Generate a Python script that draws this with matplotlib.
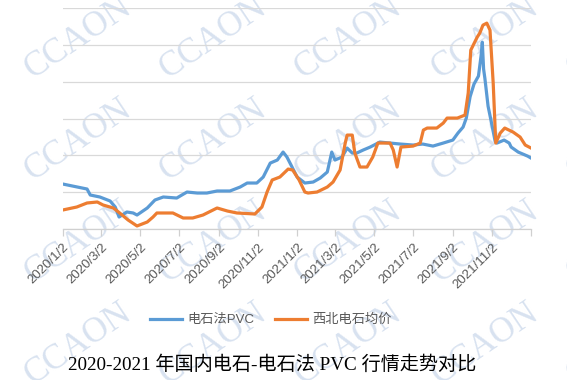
import pandas as pd
import matplotlib.pyplot as plt

plt.rcParams['font.family'] = ['Liberation Sans', 'Noto Sans CJK SC']

start = pd.Timestamp('2020-01-02')

# days since 2020/1/2, price levels (axis has no labels, units arbitrary)
pvc_day = [0, 38, 43, 58, 74, 82, 88, 100, 110, 116, 132, 144, 157, 178, 186, 194,
           210, 225, 241, 261, 277, 288, 303, 313, 324, 335, 344, 350, 358, 366,
           378, 391, 402, 413, 420, 425, 436, 444, 452, 459, 469, 480, 495, 511,
           527, 547, 562, 578, 594, 609, 617, 625, 630, 636, 642, 649, 653, 655,
           657, 659, 664, 670, 675, 678, 689, 697, 700, 711, 726, 731]
pvc_val = [1223, 1087, 924, 870, 761, 598, 326, 462, 435, 380, 571, 788, 870, 842,
           924, 1005, 978, 978, 1033, 1033, 1141, 1250, 1250, 1413, 1793, 1875,
           2092, 1957, 1685, 1413, 1250, 1277, 1386, 1549, 2092, 1875, 1957, 2201,
           2065, 2065, 2147, 2228, 2364, 2337, 2310, 2283, 2310, 2255, 2337, 2418,
           2609, 2772, 3016, 3600, 3940, 4160, 4700, 5080, 4350, 4100, 3340, 2830,
           2390, 2337, 2418, 2337, 2228, 2092, 1980, 1929]

carbide_day = [0, 22, 38, 54, 63, 79, 89, 102, 116, 132, 141, 147, 172, 188, 203,
               219, 241, 257, 272, 300, 311, 319, 327, 339, 352, 359, 369, 378,
               383, 397, 413, 422, 433, 441, 444, 452, 456, 464, 475, 484, 492,
               511, 516, 522, 528, 547, 558, 563, 569, 584, 594, 600, 616, 628,
               633, 637, 647, 651, 656, 662, 667, 672, 676, 683, 690, 703, 714,
               722, 731]
carbide_val = [516, 598, 707, 734, 652, 571, 435, 245, 82, 190, 326, 435, 435, 299,
               299, 380, 571, 489, 435, 408, 598, 1005, 1332, 1413, 1630, 1603,
               1332, 1005, 978, 1005, 1141, 1277, 1603, 2337, 2554, 2554, 2065,
               1685, 1685, 1957, 2337, 2337, 2147, 1685, 2228, 2255, 2337, 2690,
               2745, 2745, 2880, 3016, 3016, 3098, 3696, 4864, 5217, 5326, 5543,
               5598, 5408, 3967, 2337, 2609, 2745, 2636, 2500, 2283, 2201]

tick_dates = ['2020-01-02', '2020-03-02', '2020-05-02', '2020-07-02', '2020-09-02',
              '2020-11-02', '2021-01-02', '2021-03-02', '2021-05-02', '2021-07-02',
              '2021-09-02', '2021-11-02', '2022-01-02']
tick_labels = ['2020/1/2', '2020/3/2', '2020/5/2', '2020/7/2', '2020/9/2',
               '2020/11/2', '2021/1/2', '2021/3/2', '2021/5/2', '2021/7/2',
               '2021/9/2', '2021/11/2', '']

pvc_x = start + pd.to_timedelta(pvc_day, unit='D')
carbide_x = start + pd.to_timedelta(carbide_day, unit='D')

fig = plt.figure(figsize=(5.67, 3.8), dpi=100)
ax = fig.add_axes([0.1106, 0.3974, 0.8259, 0.5806])
ax.patch.set_visible(False)

# watermark (tiled, partly cut at the edges like the original)
for yc in [38, 140, 242, 344]:
    for xc in [-58, 78, 213, 348, 485, 620]:
        fig.text(xc / 567, 1 - yc / 380, 'CCAON', rotation=34, ha='center',
                 va='center', fontsize=25, color='#d8e2f0',
                 family='Liberation Serif', zorder=-1)

ax.plot(pvc_x, pvc_val, color='#5b9bd5', lw=2.3, label='电石法PVC',
        solid_joinstyle='round')
ax.plot(carbide_x, carbide_val, color='#ed7d31', lw=2.3, label='西北电石均价',
        solid_joinstyle='round')

ax.set_xlim(pd.Timestamp('2020-01-02'), pd.Timestamp('2022-01-02'))
ax.set_ylim(0, 6000)
ax.set_yticks(range(0, 6001, 1000))
ax.yaxis.grid(True, color='#d9d9d9', lw=0.9)
ax.tick_params(axis='y', length=0, labelleft=False)
for s in ['top', 'right', 'left']:
    ax.spines[s].set_visible(False)
ax.spines['bottom'].set_color('#d0d0d0')
ax.spines['bottom'].set_linewidth(0.9)

ax.set_xticks(pd.to_datetime(tick_dates))
ax.set_xticklabels(tick_labels, rotation=45, ha='right', va='top',
                   rotation_mode='anchor', fontsize=9.5, color='#595959')
ax.tick_params(axis='x', length=5, color='#d0d0d0', width=0.9, pad=4)

ax.legend(loc='center', bbox_to_anchor=(271 / 567, 1 - 320 / 380),
          bbox_transform=fig.transFigure, ncol=2, frameon=False, fontsize=9.5,
          handlelength=2.4, columnspacing=1.6, handletextpad=0.4,
          labelcolor='#595959')

fig.text(272 / 567, 1 - 365 / 380, '2020-2021 年国内电石-电石法 PVC 行情走势对比',
         ha='center', va='center', fontsize=13.8,
         family=['Liberation Serif', 'Noto Sans CJK SC'], color='black')

fig.savefig('out.png', dpi=100)
